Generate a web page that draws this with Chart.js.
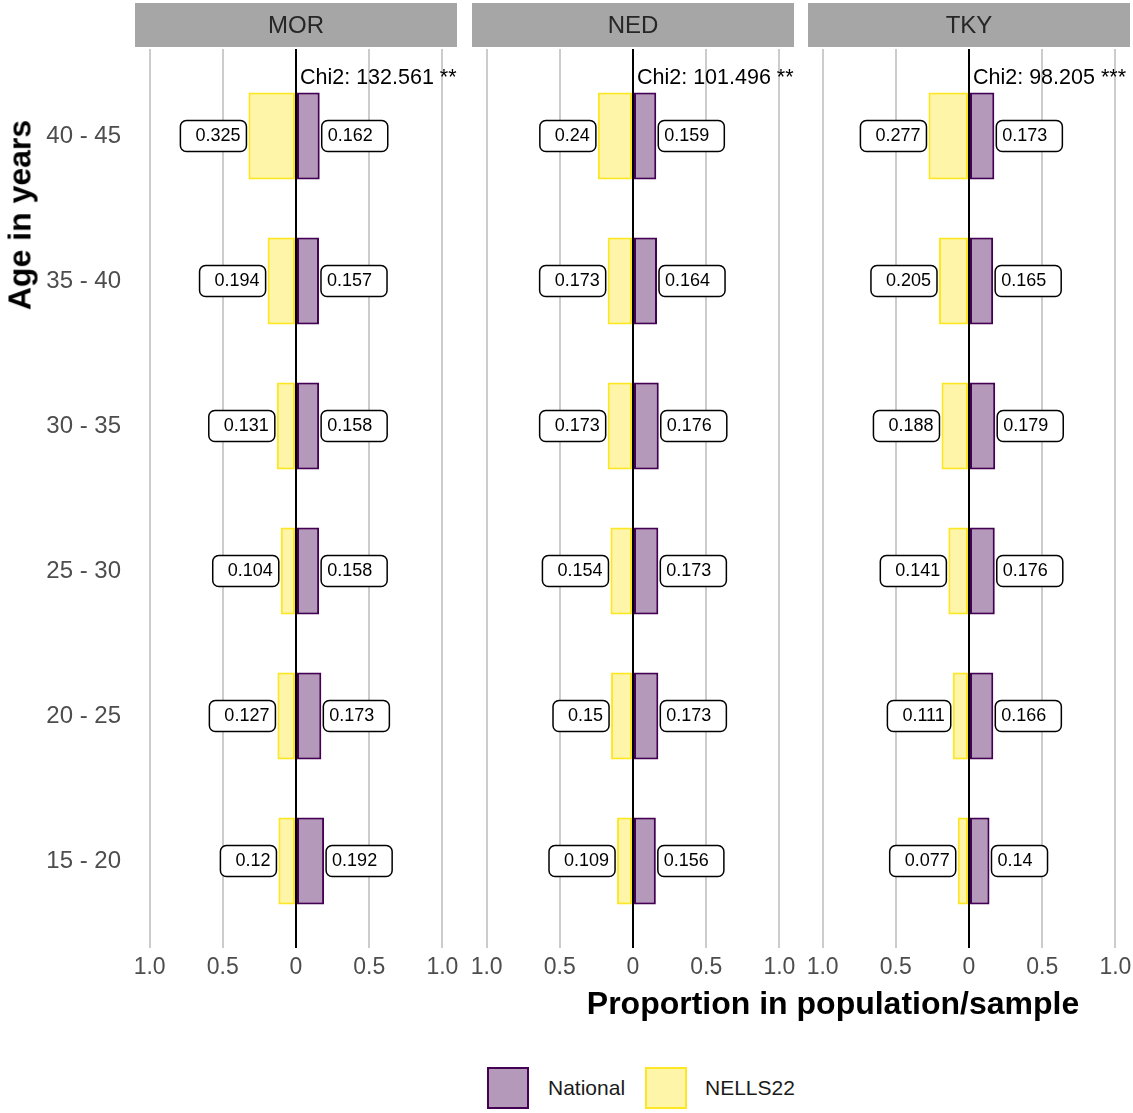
<!DOCTYPE html>
<html>
<head>
<meta charset="utf-8">
<script src="https://cdn.jsdelivr.net/npm/chart.js@4.4.1/dist/chart.umd.min.js"></script>
<style>
  body { margin: 0; background: #fff; font-family: "Liberation Sans", Arial, sans-serif; }
  #wrap { position: relative; width: 1133px; height: 1113px; overflow: hidden; }
  canvas { position: absolute; top: 0; }
  .ytitle { position: absolute; left: 20px; top: 215px; transform: translate(-50%, -50%) rotate(-90deg);
            font-weight: bold; font-size: 32px; white-space: nowrap; color: #000; }
  .xtitle { position: absolute; left: 833px; top: 1003px; transform: translate(-50%, -50%);
            font-weight: bold; font-size: 32px; white-space: nowrap; color: #000; }
  .lgbox { position: absolute; top: 1067px; width: 38px; height: 38px; border: 2px solid; }
  .lgtxt { position: absolute; top: 1088px; transform: translateY(-50%); font-size: 21px; color: #1a1a1a; }
</style>
</head>
<body>
<div id="wrap">
  <canvas id="pMOR" width="460" height="990" style="left:0px"></canvas>
  <canvas id="pNED" width="340" height="990" style="left:457px"></canvas>
  <canvas id="pTKY" width="340" height="990" style="left:793px"></canvas>
  <div class="ytitle">Age in years</div>
  <div class="xtitle">Proportion in population/sample</div>
  <div class="lgbox" style="left:487px; background:rgba(68,1,84,0.4); border-color:#440154"></div>
  <div class="lgtxt" style="left:548px">National</div>
  <div class="lgbox" style="left:645px; background:rgba(253,231,37,0.4); border-color:#FDE725"></div>
  <div class="lgtxt" style="left:705px">NELLS22</div>
</div>
<script>
// leeftijdsgroepen, van onder naar boven
const ageGroups = ['15 - 20', '20 - 25', '25 - 30', '30 - 35', '35 - 40', '40 - 45'];

const nationalMOR = [0.192, 0.173, 0.158, 0.158, 0.157, 0.162];
const nellsMOR    = [0.12, 0.127, 0.104, 0.131, 0.194, 0.325];
const nationalNED = [0.156, 0.173, 0.173, 0.176, 0.164, 0.159];
const nellsNED    = [0.109, 0.15, 0.154, 0.173, 0.173, 0.24];
const nationalTKY = [0.14, 0.166, 0.176, 0.179, 0.165, 0.173];
const nellsTKY    = [0.077, 0.111, 0.141, 0.188, 0.205, 0.277];

const chiMOR = 'Chi2: 132.561 **';
const chiNED = 'Chi2: 101.496 **';
const chiTKY = 'Chi2: 98.205 ***';

const xTickValues = [-1, -0.5, 0, 0.5, 1];
const xTickLabels = ['1.0', '0.5', '0', '0.5', '1.0'];

const purpleFill = 'rgba(68,1,84,0.4)', purpleLine = '#440154';
const yellowFill = 'rgba(253,231,37,0.4)', yellowLine = '#FDE725';

// strip, nullijn, chi-tekst en labels
const panelDeco = {
  id: 'panelDeco',
  beforeDraw(chart, args, opts) {
    const ctx = chart.ctx, a = chart.chartArea;
    ctx.save();
    ctx.fillStyle = '#a6a6a6';
    ctx.fillRect(a.left, 3, a.right - a.left, 44);
    ctx.fillStyle = '#262626';
    ctx.font = '24px "Liberation Sans", Arial, sans-serif';
    ctx.textAlign = 'center';
    ctx.textBaseline = 'middle';
    ctx.fillText(opts.title, (a.left + a.right) / 2, 26);
    ctx.restore();
  },
  afterDatasetsDraw(chart, args, opts) {
    const ctx = chart.ctx, a = chart.chartArea;
    const xs = chart.scales.x, ys = chart.scales.y;
    const x0 = xs.getPixelForValue(0);
    ctx.save();
    ctx.strokeStyle = '#000';
    ctx.lineWidth = 2;
    ctx.beginPath();
    ctx.moveTo(x0, a.top);
    ctx.lineTo(x0, a.bottom);
    ctx.stroke();

    ctx.fillStyle = '#000';
    ctx.font = '21.5px "Liberation Sans", Arial, sans-serif';
    ctx.textAlign = 'left';
    ctx.textBaseline = 'middle';
    ctx.fillText(opts.chi, x0 + 4, ys.getPixelForValue(6.4));

    ctx.font = '18px "Liberation Sans", Arial, sans-serif';
    ctx.lineWidth = 1.5;
    const h = 31;
    function box(left, w, yc) {
      ctx.beginPath();
      ctx.roundRect(left, yc - h / 2, w, h, 6);
      ctx.fillStyle = '#fff';
      ctx.fill();
      ctx.stroke();
    }
    for (let i = 0; i < ageGroups.length; i++) {
      const yc = ys.getPixelForValue(i + 1);
      // national rechts
      let t = String(opts.national[i]);
      let tw = ctx.measureText(t).width;
      let left = xs.getPixelForValue(opts.national[i]) + 2;
      box(left, tw + 21, yc);
      ctx.fillStyle = '#000';
      ctx.textAlign = 'left';
      ctx.fillText(t, left + 6, yc);
      // nells links
      t = String(opts.nells[i]);
      tw = ctx.measureText(t).width;
      const right = xs.getPixelForValue(-opts.nells[i]) - 2;
      box(right - tw - 21, tw + 21, yc);
      ctx.fillStyle = '#000';
      ctx.textAlign = 'right';
      ctx.fillText(t, right - 6, yc);
    }
    ctx.restore();
  }
};

function makePanel(canvasId, title, chi, national, nells, showY) {
  new Chart(document.getElementById(canvasId), {
    type: 'bar',
    data: {
      datasets: [
        { label: 'National', data: national.map((v, i) => ({ x: v, y: i + 1 })),
          backgroundColor: purpleFill, borderColor: purpleLine, borderWidth: 2, borderSkipped: false,
          barPercentage: 0.6, categoryPercentage: 1 },
        { label: 'NELLS22', data: nells.map((v, i) => ({ x: -v, y: i + 1 })),
          backgroundColor: yellowFill, borderColor: yellowLine, borderWidth: 2, borderSkipped: false,
          barPercentage: 0.6, categoryPercentage: 1 }
      ]
    },
    options: {
      indexAxis: 'y',
      responsive: false,
      animation: false,
      layout: { padding: { top: 49, left: showY ? 0 : 15, right: 3, bottom: 2 } },
      plugins: {
        legend: { display: false },
        tooltip: { enabled: false },
        panelDeco: { title: title, chi: chi, national: national, nells: nells }
      },
      scales: {
        x: {
          type: 'linear', min: -1.1, max: 1.1, stacked: true,
          afterBuildTicks: s => { s.ticks = xTickValues.map(v => ({ value: v })); },
          afterFit: s => { s.height = 40; s.paddingLeft = 0; s.paddingRight = 0; },
          ticks: {
            callback: (v, i) => xTickLabels[i],
            color: '#4d4d4d', font: { size: 23, family: '"Liberation Sans", Arial, sans-serif' },
            padding: 6, maxRotation: 0, autoSkip: false
          },
          grid: { color: '#cccccc', lineWidth: 2, drawTicks: false },
          border: { display: false }
        },
        y: {
          type: 'linear', min: 0.4, max: 6.6, stacked: true, display: showY, offset: false,
          afterBuildTicks: s => { s.ticks = ageGroups.map((g, i) => ({ value: i + 1 })); },
          afterFit: s => { if (showY) s.width = 135; s.paddingTop = 0; s.paddingBottom = 0; },
          ticks: {
            callback: v => ageGroups[v - 1],
            color: '#4d4d4d', font: { size: 24, family: '"Liberation Sans", Arial, sans-serif' },
            padding: 14
          },
          grid: { display: false, drawTicks: false, offset: false },
          border: { display: false }
        }
      }
    },
    plugins: [panelDeco]
  });
}

makePanel('pMOR', 'MOR', chiMOR, nationalMOR, nellsMOR, true);
makePanel('pNED', 'NED', chiNED, nationalNED, nellsNED, false);
makePanel('pTKY', 'TKY', chiTKY, nationalTKY, nellsTKY, false);
</script>
</body>
</html>
